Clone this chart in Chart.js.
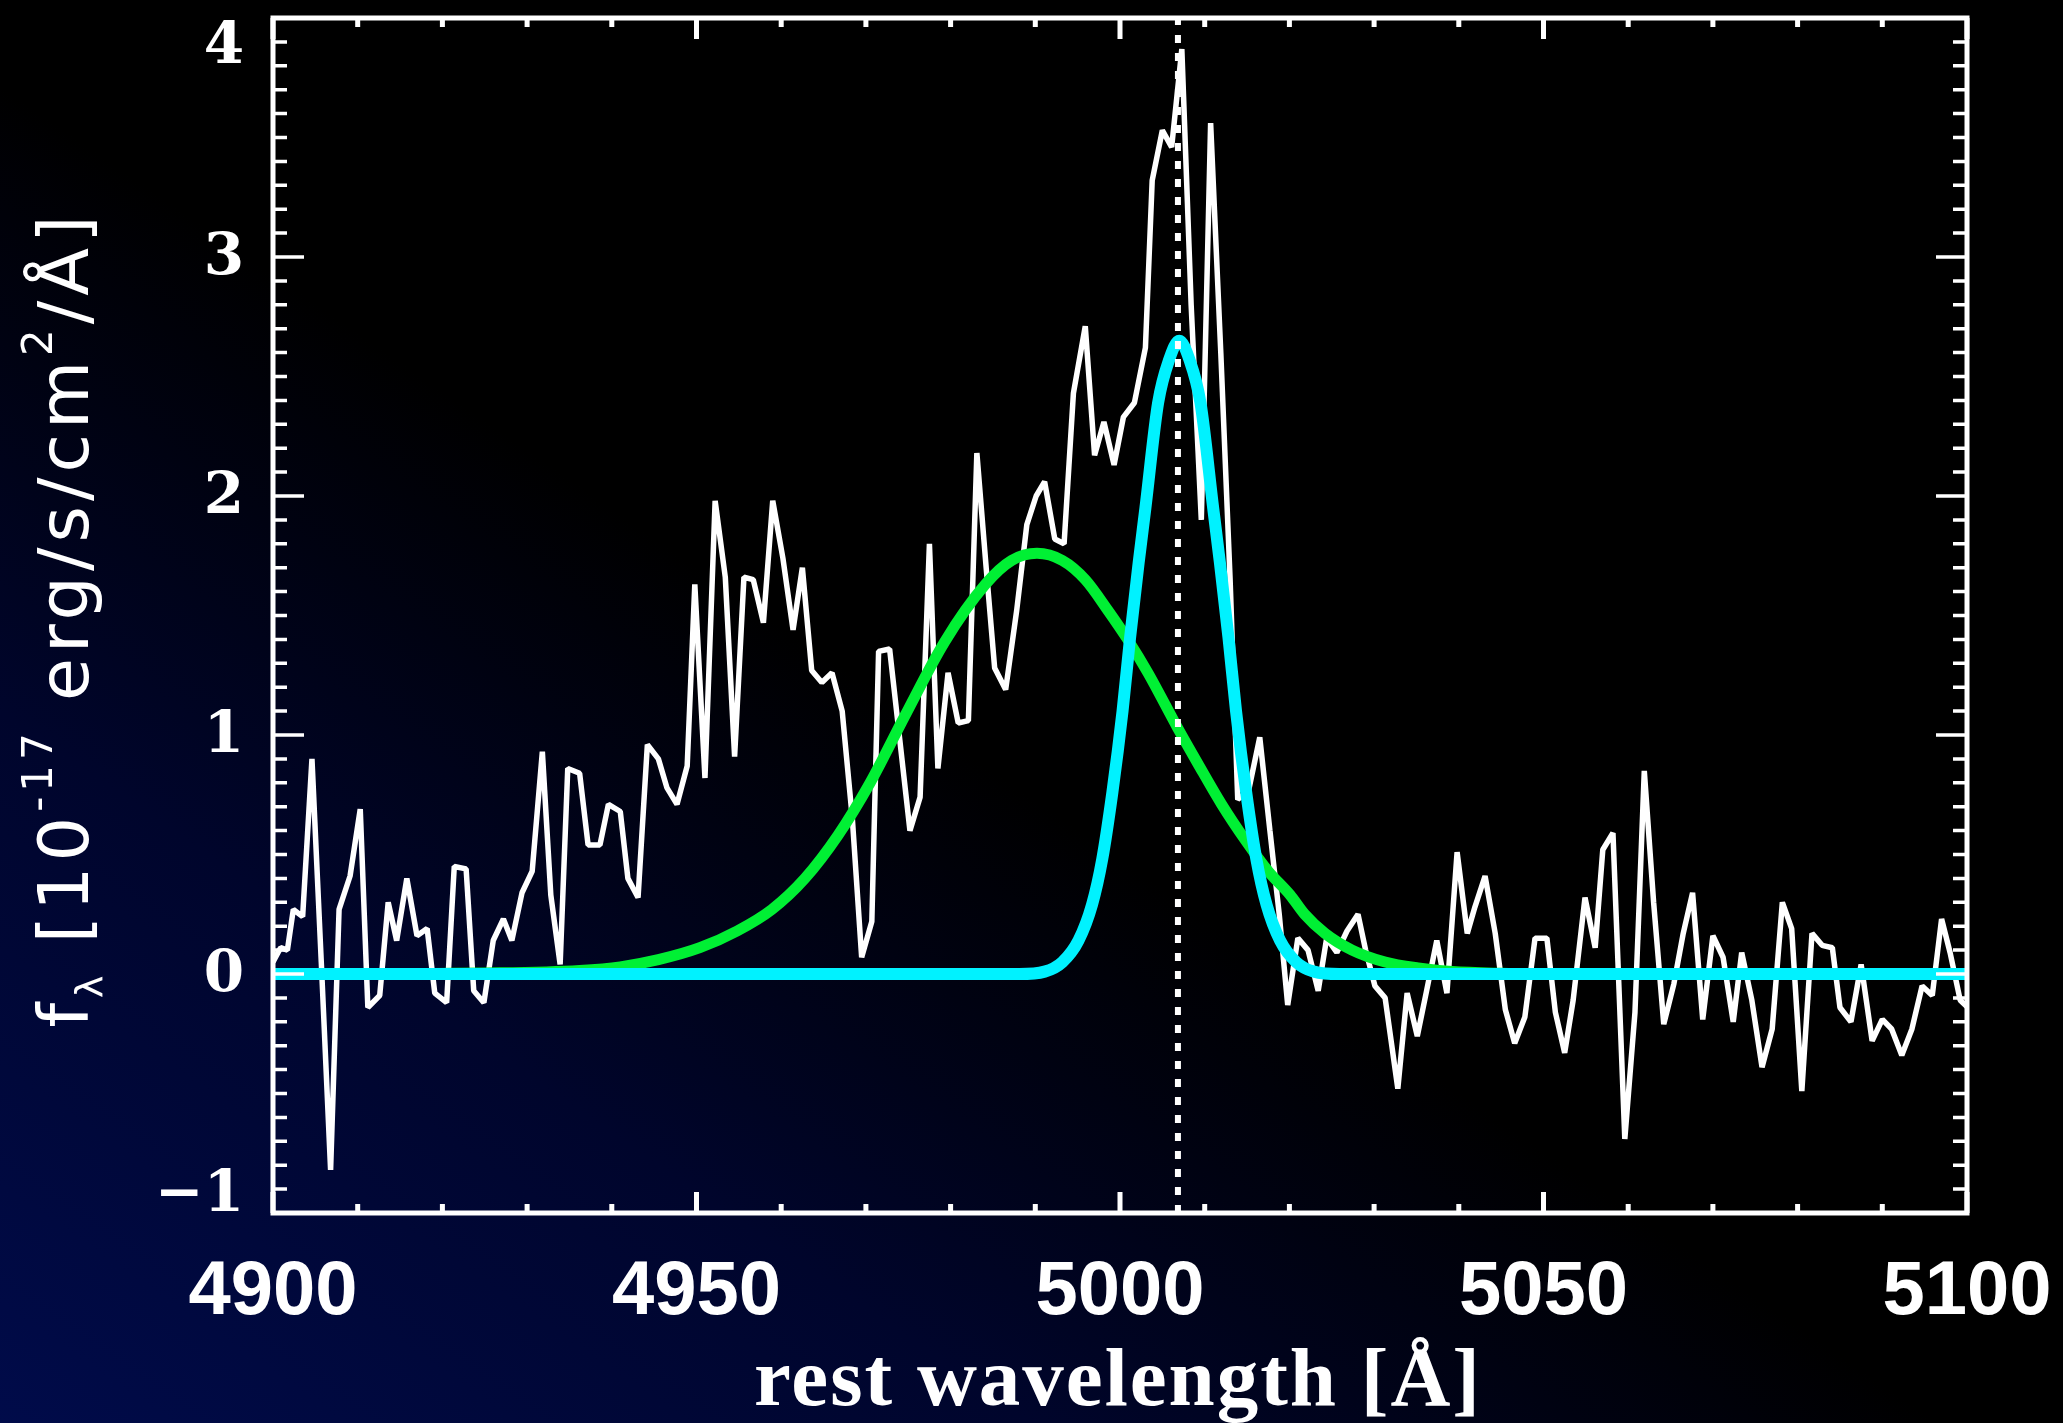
<!DOCTYPE html>
<html><head><meta charset="utf-8">
<script src="https://cdn.jsdelivr.net/npm/chart.js@4.4.0/dist/chart.umd.min.js"></script>
<style>
html,body{margin:0;padding:0;width:2063px;height:1423px;overflow:hidden;
background:linear-gradient(to top right,#000b4a 0%,#00052c 25%,#000000 47%);}
canvas{display:block}
</style></head><body>
<canvas id="c" width="2063" height="1423"></canvas>
<script>
// ---- data ----
const wavelength = [4900.0,4900.9,4901.7,4902.4,4903.5,4904.6,4905.7,4906.8,4907.8,4909.1,
4910.3,4911.2,4912.6,4913.6,4914.6,4915.8,4917.0,4918.2,4919.1,4920.5,
4921.4,4922.8,4923.7,4924.9,4926.0,4927.2,4928.2,4929.4,4930.6,4931.8,
4932.8,4933.9,4934.8,4936.2,4937.2,4938.6,4939.6,4941.0,4941.9,4943.1,
4944.2,4945.5,4946.5,4947.7,4948.9,4949.8,4951.0,4952.2,4953.4,4954.5,
4955.6,4956.7,4957.9,4959.0,4960.2,4961.4,4962.5,4963.6,4964.8,4966.0,
4967.2,4968.4,4969.5,4970.7,4971.5,4972.8,4974.0,4975.2,4976.4,4977.5,
4978.5,4979.7,4980.9,4982.1,4983.1,4984.2,4985.2,4986.5,4987.8,4989.0,
4990.1,4991.1,4992.3,4993.4,4994.5,4995.9,4997.0,4998.1,4999.3,5000.4,
5001.7,5003.0,5003.8,5005.0,5006.1,5007.3,5008.4,5009.6,5010.7,5011.9,
5013.0,5013.9,5015.2,5016.5,5017.7,5018.8,5019.8,5021.0,5022.2,5023.4,
5024.4,5025.6,5026.8,5028.1,5029.0,5030.1,5031.3,5032.8,5033.9,5035.1,
5036.2,5037.4,5038.6,5039.8,5041.0,5041.9,5043.1,5044.3,5045.5,5046.6,
5047.8,5049.0,5050.4,5051.4,5052.5,5053.5,5054.9,5056.1,5057.0,5058.2,
5059.6,5060.8,5061.9,5063.0,5064.2,5065.4,5066.5,5067.6,5068.8,5070.0,
5071.2,5072.4,5073.4,5074.6,5075.8,5077.0,5078.2,5079.3,5080.5,5081.7,
5082.9,5084.1,5085.0,5086.3,5087.5,5088.8,5090.0,5091.1,5092.3,5093.5,
5094.7,5095.9,5097.0,5098.0,5099.2,5100.4];
const flux = [0.05,0.11,0.10,0.27,0.24,0.90,0.05,-0.82,0.27,0.41,
0.69,-0.14,-0.09,0.30,0.14,0.40,0.16,0.19,-0.08,-0.12,
0.45,0.44,-0.07,-0.12,0.14,0.23,0.14,0.34,0.43,0.93,
0.33,0.04,0.86,0.84,0.54,0.54,0.71,0.68,0.40,0.32,
0.96,0.90,0.78,0.71,0.87,1.63,0.82,1.98,1.66,0.91,
1.66,1.65,1.47,1.98,1.74,1.44,1.70,1.27,1.22,1.26,
1.10,0.65,0.07,0.22,1.35,1.36,0.98,0.60,0.74,1.80,
0.86,1.26,1.05,1.06,2.18,1.70,1.28,1.19,1.52,1.88,
2.00,2.06,1.82,1.80,2.43,2.71,2.17,2.31,2.13,2.33,
2.39,2.62,3.32,3.53,3.46,3.87,2.80,1.90,3.56,2.60,
1.65,0.73,0.77,0.99,0.60,0.25,-0.13,0.15,0.10,-0.07,
0.15,0.09,0.18,0.25,0.10,-0.05,-0.10,-0.48,-0.08,-0.26,
-0.07,0.14,-0.08,0.51,0.17,0.28,0.41,0.17,-0.15,-0.29,
-0.18,0.15,0.15,-0.16,-0.33,-0.11,0.32,0.11,0.52,0.59,
-0.69,-0.16,0.85,0.30,-0.21,-0.04,0.17,0.34,-0.19,0.16,
0.07,-0.20,0.09,-0.11,-0.39,-0.23,0.30,0.19,-0.49,0.17,
0.12,0.11,-0.14,-0.20,0.04,-0.28,-0.19,-0.23,-0.34,-0.23,
-0.05,-0.09,0.23,0.09,-0.11,-0.15];

const broadWl = [4900,4926.8,4936.2,4941.0,4945.5,4950.4,4954.8,4958.9,4962.8,4966.7,4970.5,4974.6,4979.3,4984.1,4987.2,4990.2,4993.2,4995.9,4998.6,5000.9,5003.3,5006.8,5009.2,5012.0,5014.8,5017.5,5020.1,5021.8,5024.2,5027.4,5031.3,5035.2,5039.2,5044.9,5055,5100];
const broadFlux = [0,0.005,0.015,0.03,0.06,0.11,0.18,0.27,0.40,0.58,0.80,1.08,1.39,1.63,1.73,1.76,1.73,1.65,1.52,1.40,1.26,1.03,0.88,0.71,0.56,0.43,0.33,0.25,0.17,0.10,0.05,0.025,0.01,0.003,0,0];

const narrowWl = [4900,4985,4988.1,4991.1,4993.2,4995.1,4996.7,4997.9,4999.1,5000.3,5001.2,5002.2,5003.0,5004.5,5005.8,5007.0,5008.2,5009.5,5011.0,5011.8,5012.8,5013.7,5014.9,5016.1,5017.3,5018.9,5020.8,5022.9,5025.9,5030,5100];
const narrowFlux = [0,0,0,0.01,0.05,0.14,0.29,0.48,0.76,1.10,1.41,1.72,1.95,2.39,2.57,2.65,2.57,2.39,1.95,1.72,1.41,1.10,0.76,0.48,0.29,0.14,0.05,0.01,0,0,0];

const oiiiLine = 5006.84;
const xTicks = [4900,4950,5000,5050,5100];
const yTicks = [-1,0,1,2,3,4];
const xTitle = 'rest wavelength [Å]';
const yTitleParts = ['f','λ',' [10','-17',' erg/s/cm','2','/Å]'];

// ---- helpers ----
const toXY = (xs, ys) => xs.map((x, i) => ({x: x, y: ys[i]}));
const fmtY = v => v < 0 ? '\u2212' + Math.abs(v) : String(v);

const framePlugin = {
  id: 'frame',
  afterDatasetsDraw(chart) {
    const ctx = chart.ctx, a = chart.chartArea;
    const xs = chart.scales.x, ys = chart.scales.y;
    ctx.save();
    ctx.strokeStyle = '#fff';
    ctx.lineCap = 'butt';
    // x ticks (top and bottom, inward)
    const xStep = (xTicks[1] - xTicks[0]) / 5;
    ctx.lineWidth = 5;
    for (let w = xTicks[0]; w <= xTicks[xTicks.length-1] + 1e-6; w += xStep) {
      const major = xTicks.some(t => Math.abs(t - w) < 1e-6);
      const len = major ? 21 : 9;
      const px = xs.getPixelForValue(w);
      ctx.beginPath();
      ctx.moveTo(px, a.bottom); ctx.lineTo(px, a.bottom - len);
      ctx.moveTo(px, a.top); ctx.lineTo(px, a.top + len);
      ctx.stroke();
    }
    // y ticks (left and right, inward)
    const yStep = (yTicks[1] - yTicks[0]) / 10;
    ctx.lineWidth = 3.5;
    const nY = Math.round((yTicks[yTicks.length-1] - yTicks[0]) / yStep);
    for (let k = 0; k <= nY; k++) {
      const v = yTicks[0] + k * yStep;
      const major = (k % 10) === 0;
      const len = major ? 31 : 14;
      const py = ys.getPixelForValue(v);
      ctx.beginPath();
      ctx.moveTo(a.left, py); ctx.lineTo(a.left + len, py);
      ctx.moveTo(a.right, py); ctx.lineTo(a.right - len, py);
      ctx.stroke();
    }
    // box
    ctx.lineWidth = 5;
    ctx.strokeRect(a.left, a.top, a.right - a.left, a.bottom - a.top);

    // y tick labels
    ctx.fillStyle = '#fff';
    ctx.font = 'bold 58px "DejaVu Serif"';
    ctx.textAlign = 'right';
    ctx.textBaseline = 'middle';
    yTicks.forEach(v => {
      let py = ys.getPixelForValue(v);
      py = Math.min(Math.max(py, a.top + 28), a.bottom - 19);
      ctx.fillText(fmtY(v), a.left - 29, py + 2);
    });

    // x title
    ctx.font = 'bold 83px "Liberation Serif"';
    ctx.textAlign = 'center';
    ctx.textBaseline = 'alphabetic';
    if ('letterSpacing' in ctx) ctx.letterSpacing = '2px';
    ctx.fillText(xTitle, (a.left + a.right) / 2 - 2, 1405);
    if ('letterSpacing' in ctx) ctx.letterSpacing = '0px';

    // y title with sub/superscripts
    const S = 70, sup = 42, sub = 38;
    const segs = [
      {t: yTitleParts[0], size: S, dy: 0},
      {t: yTitleParts[1], size: sub, dy: 14},
      {t: yTitleParts[2], size: S, dy: 0},
      {t: yTitleParts[3], size: sup, dy: -36},
      {t: yTitleParts[4], size: S, dy: 0},
      {t: yTitleParts[5], size: sup, dy: -36},
      {t: yTitleParts[6], size: S, dy: 0}
    ];
    ctx.textAlign = 'left';
    let nat = 0, n = 0;
    segs.forEach(s => {
      ctx.font = '500 ' + s.size + 'px "DejaVu Sans"';
      s.w = ctx.measureText(s.t).width;
      s.n = Array.from(s.t).length;
      nat += s.w; n += s.n;
    });
    const target = 817;
    const hasLS = 'letterSpacing' in ctx;
    const sp = hasLS ? (target - nat) / n : 0;
    ctx.translate(88, 619);
    ctx.rotate(-Math.PI / 2);
    let x = -(nat + sp * n) / 2;
    segs.forEach(s => {
      ctx.font = '500 ' + s.size + 'px "DejaVu Sans"';
      if (hasLS) ctx.letterSpacing = sp + 'px';
      ctx.fillText(s.t, x, s.dy);
      x += s.w + sp * s.n;
    });
    if (hasLS) ctx.letterSpacing = '0px';
    ctx.restore();
  }
};

const ctx = document.getElementById('c').getContext('2d');
new Chart(ctx, {
  type: 'line',
  data: {
    datasets: [
      {label: '[OIII] 5007', data: [{x: oiiiLine, y: yTicks[0]}, {x: oiiiLine, y: yTicks[yTicks.length-1]}],
       borderColor: '#ffffff', borderWidth: 6, borderDash: [8, 10], borderCapStyle: 'butt',
       pointRadius: 0, order: 0, clip: 0},
      {label: 'narrow', data: toXY(narrowWl, narrowFlux), borderColor: '#00f2ff', borderWidth: 12,
       pointRadius: 0, cubicInterpolationMode: 'monotone', order: 1, clip: 0},
      {label: 'broad', data: toXY(broadWl, broadFlux), borderColor: '#00f034', borderWidth: 11,
       pointRadius: 0, cubicInterpolationMode: 'monotone', order: 2, clip: 0},
      {label: 'spectrum', data: toXY(wavelength, flux), borderColor: '#ffffff', borderWidth: 5.5,
       borderJoinStyle: 'bevel', pointRadius: 0, tension: 0, order: 3, clip: 0}
    ]
  },
  options: {
    responsive: false,
    animation: false,
    devicePixelRatio: 1,
    layout: {padding: {top: 18, right: 96, left: 0, bottom: 0}},
    plugins: {legend: {display: false}, tooltip: {enabled: false}},
    scales: {
      x: {
        type: 'linear', min: xTicks[0], max: xTicks[xTicks.length-1],
        grid: {display: false, drawTicks: false},
        border: {display: false},
        afterBuildTicks: s => { s.ticks = xTicks.map(v => ({value: v})); },
        afterFit: s => { s.height = 210; s.paddingLeft = 0; s.paddingRight = 0; },
        ticks: {
          autoSkip: false, maxRotation: 0, minRotation: 0,
          color: '#ffffff', padding: 34,
          font: {family: 'Liberation Sans', weight: 'bold', size: 76},
          callback: v => String(v)
        }
      },
      y: {
        type: 'linear', min: yTicks[0], max: yTicks[yTicks.length-1],
        grid: {display: false, drawTicks: false},
        border: {display: false},
        afterBuildTicks: s => { s.ticks = yTicks.map(v => ({value: v})); },
        afterFit: s => { s.width = 273; s.paddingTop = 0; s.paddingBottom = 0; },
        ticks: {display: false}
      }
    }
  },
  plugins: [framePlugin]
});
</script>
</body></html>
